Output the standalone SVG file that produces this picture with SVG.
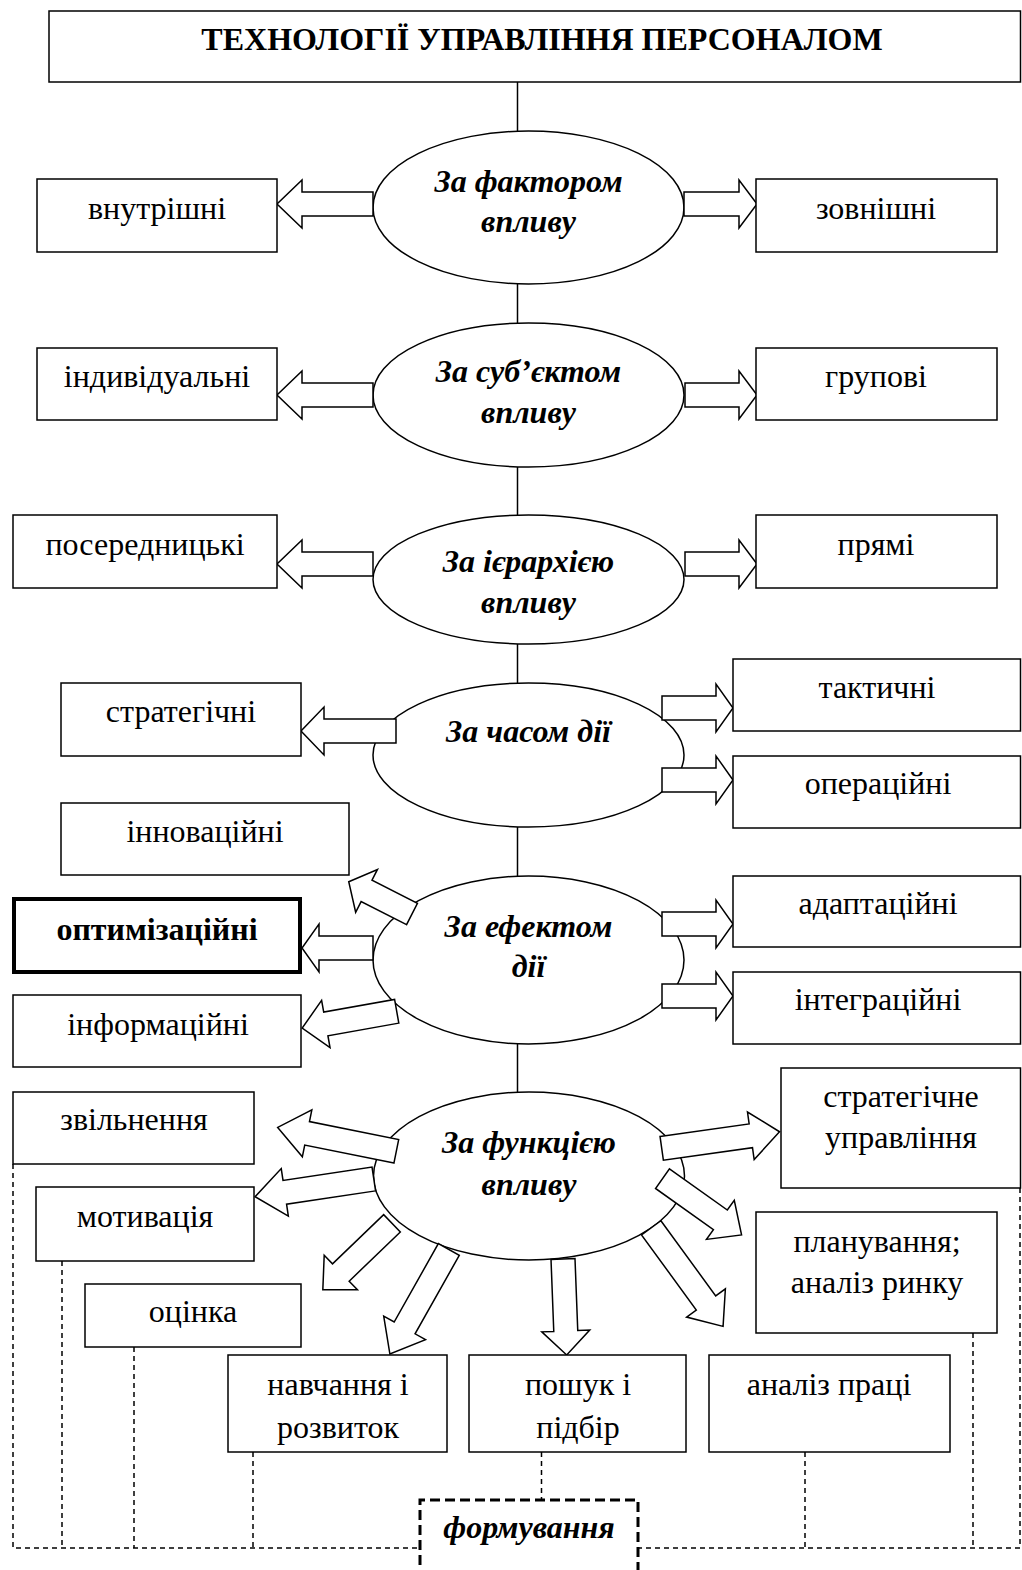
<svg xmlns="http://www.w3.org/2000/svg" width="1022" height="1570" viewBox="0 0 1022 1570">
  <style>
    .box { fill: #fff; stroke: #000; stroke-width: 1.5; }
    .thick { fill: #fff; stroke: #000; stroke-width: 4; }
    .ell { fill: #fff; stroke: #000; stroke-width: 1.5; }
    .ba { fill: #fff; stroke: #000; stroke-width: 1.5; stroke-linejoin: miter; }
    .spine { stroke: #000; stroke-width: 1.5; fill: none; }
    .dash { stroke: #000; stroke-width: 1.5; stroke-dasharray: 5 4; fill: none; }
    .fdash { fill: none; stroke: #000; stroke-width: 3; stroke-dasharray: 10 5; }
    text { font-family: "Liberation Serif", "Times New Roman", serif; font-size: 32px; text-anchor: middle; fill: #000; }
    .b { font-weight: bold; }
    .bi { font-weight: bold; font-style: italic; }
  </style>
  <rect width="1022" height="1570" fill="#fff"/>

  <!-- title -->
  <g id="title">
    <rect class="box" x="49" y="11" width="971.5" height="71"/>
    <text class="b" x="542" y="50">ТЕХНОЛОГІЇ УПРАВЛІННЯ ПЕРСОНАЛОМ</text>
  </g>

  <!-- classification ellipses -->
  <g id="e-factor">
    <ellipse class="ell" cx="528.5" cy="207.5" rx="155.5" ry="76.5"/>
    <text class="bi" x="528.5" y="192">За фактором</text>
    <text class="bi" x="528.5" y="232">впливу</text>
  </g>
  <g id="e-subject">
    <ellipse class="ell" cx="528.5" cy="395" rx="155.5" ry="72"/>
    <text class="bi" x="528.5" y="382">За суб’єктом</text>
    <text class="bi" x="528.5" y="423">впливу</text>
  </g>
  <g id="e-hierarchy">
    <ellipse class="ell" cx="528.5" cy="579.5" rx="155.5" ry="64.5"/>
    <text class="bi" x="528.5" y="572">За ієрархією</text>
    <text class="bi" x="528.5" y="613">впливу</text>
  </g>
  <g id="e-time">
    <ellipse class="ell" cx="528.5" cy="755" rx="155.5" ry="72"/>
    <text class="bi" x="528.5" y="742">За часом дії</text>
  </g>
  <g id="e-effect">
    <ellipse class="ell" cx="528.5" cy="960" rx="155.5" ry="84"/>
    <text class="bi" x="528.5" y="937">За ефектом</text>
    <text class="bi" x="528.5" y="977">дії</text>
  </g>
  <g id="e-function">
    <ellipse class="ell" cx="529" cy="1176" rx="155.5" ry="84"/>
    <text class="bi" x="529" y="1153">За функцією</text>
    <text class="bi" x="529" y="1195">впливу</text>
  </g>

  <!-- connectors: spine, block arrows, dashed links -->
  <g id="connectors">
    <line class="spine" x1="517.5" y1="82" x2="517.5" y2="131"/>
    <line class="spine" x1="517.5" y1="284" x2="517.5" y2="323"/>
    <line class="spine" x1="517.5" y1="467" x2="517.5" y2="515"/>
    <line class="spine" x1="517.5" y1="644" x2="517.5" y2="683"/>
    <line class="spine" x1="517.5" y1="827" x2="517.5" y2="876"/>
    <line class="spine" x1="517.5" y1="1044" x2="517.5" y2="1092"/>

    <polygon class="ba" points="373,192 302,192 302,180 277,204 302,228 302,216 373,216"/>
    <polygon class="ba" points="684,192 739,192 739,180 757,204 739,228 739,216 684,216"/>
    <polygon class="ba" points="373,383 302,383 302,371 277,395 302,419 302,407 373,407"/>
    <polygon class="ba" points="685,383 739,383 739,371 757,395 739,419 739,407 685,407"/>
    <polygon class="ba" points="373,552 302,552 302,540 277,564 302,588 302,576 373,576"/>
    <polygon class="ba" points="685,552 739,552 739,540 757,564 739,588 739,576 685,576"/>
    <polygon class="ba" points="396,719 324,719 324,707 301,731 324,755 324,743 396,743"/>
    <polygon class="ba" points="662,696 716,696 716,684 733,708 716,732 716,720 662,720"/>
    <polygon class="ba" points="662,768 716,768 716,756 733,780 716,804 716,792 662,792"/>
    <polygon class="ba" points="373,936 319,936 319,924 302,948 319,972 319,960 373,960"/>
    <polygon class="ba" points="662,912 716,912 716,900 733,924 716,948 716,936 662,936"/>
    <polygon class="ba" points="662,984 716,984 716,972 733,996 716,1020 716,1008 662,1008"/>
    <polygon class="ba" transform="translate(412,914) rotate(207)" points="0,-12 51,-12 51,-24 71,0 51,24 51,12 0,12"/>
    <polygon class="ba" transform="translate(396.7,1011.3) rotate(169.9)" points="0,-12 72,-12 72,-24 96,0 72,24 72,12 0,12"/>

    <polygon class="ba" transform="translate(396.3,1151.3) rotate(191.4)" points="0,-12 91,-12 91,-24 121,0 91,24 91,12 0,12"/>
    <polygon class="ba" transform="translate(373.8,1179) rotate(171.5)" points="0,-12 90,-12 90,-24 120,0 90,24 90,12 0,12"/>
    <polygon class="ba" transform="translate(392,1223.3) rotate(136.1)" points="0,-12 71,-12 71,-24 96,0 71,24 71,12 0,12"/>
    <polygon class="ba" transform="translate(448.8,1249.5) rotate(119.4)" points="0,-12 90,-12 90,-24 120,0 90,24 90,12 0,12"/>
    <polygon class="ba" transform="translate(563,1259) rotate(87.8)" points="0,-12 72,-12 72,-24 96,0 72,24 72,12 0,12"/>
    <polygon class="ba" transform="translate(651.2,1227.8) rotate(53.9)" points="0,-12 93,-12 93,-24 122,0 93,24 93,12 0,12"/>
    <polygon class="ba" transform="translate(662.5,1178.7) rotate(35.4)" points="0,-12 71,-12 71,-24 97,0 71,24 71,12 0,12"/>
    <polygon class="ba" transform="translate(661.7,1148.3) rotate(-8)" points="0,-12 90,-12 90,-24 119,0 90,24 90,12 0,12"/>

    <path class="dash" d="M13,1164 V1548 H420"/>
    <path class="dash" d="M1020,1188 V1548 H638"/>
    <line class="dash" x1="62" y1="1261" x2="62" y2="1548"/>
    <line class="dash" x1="134" y1="1347" x2="134" y2="1548"/>
    <line class="dash" x1="253" y1="1452" x2="253" y2="1548"/>
    <line class="dash" x1="541.5" y1="1452" x2="541.5" y2="1500"/>
    <line class="dash" x1="805" y1="1452" x2="805" y2="1548"/>
    <line class="dash" x1="973" y1="1333" x2="973" y2="1548"/>
  </g>

  <!-- category boxes -->
  <g id="n-internal"><rect class="box" x="37" y="179" width="240" height="73"/><text x="157" y="219">внутрішні</text></g>
  <g id="n-external"><rect class="box" x="756" y="179" width="241" height="73"/><text x="876" y="219">зовнішні</text></g>
  <g id="n-individual"><rect class="box" x="37" y="348" width="240" height="72"/><text x="157" y="387">індивідуальні</text></g>
  <g id="n-group"><rect class="box" x="756" y="348" width="241" height="72"/><text x="876" y="387">групові</text></g>
  <g id="n-mediated"><rect class="box" x="13" y="515" width="264" height="73"/><text x="145" y="555">посередницькі</text></g>
  <g id="n-direct"><rect class="box" x="756" y="515" width="241" height="73"/><text x="876" y="555">прямі</text></g>
  <g id="n-strategic"><rect class="box" x="61" y="683" width="240" height="73"/><text x="181" y="722">стратегічні</text></g>
  <g id="n-tactical"><rect class="box" x="733" y="659" width="287.5" height="72"/><text x="877" y="698">тактичні</text></g>
  <g id="n-operational"><rect class="box" x="733" y="756" width="287.5" height="72"/><text x="878" y="794">операційні</text></g>
  <g id="n-innovative"><rect class="box" x="61" y="803" width="288" height="72"/><text x="205" y="842">інноваційні</text></g>
  <g id="n-optimizing"><rect class="thick" x="14" y="899" width="286" height="73"/><text class="b" x="157" y="940">оптимізаційні</text></g>
  <g id="n-informational"><rect class="box" x="13" y="995" width="288" height="72"/><text x="158" y="1035">інформаційні</text></g>
  <g id="n-adaptive"><rect class="box" x="733" y="876" width="287.5" height="71"/><text x="878" y="914">адаптаційні</text></g>
  <g id="n-integrative"><rect class="box" x="733" y="972" width="287.5" height="72"/><text x="878" y="1010">інтеграційні</text></g>

  <!-- function boxes -->
  <g id="n-dismissal"><rect class="box" x="13" y="1092" width="241" height="72"/><text x="134" y="1130">звільнення</text></g>
  <g id="n-motivation"><rect class="box" x="36" y="1187" width="218" height="74"/><text x="145" y="1227">мотивація</text></g>
  <g id="n-appraisal"><rect class="box" x="85" y="1284" width="216" height="63"/><text x="193" y="1322">оцінка</text></g>
  <g id="n-strat-mgmt"><rect class="box" x="781" y="1068" width="239.5" height="120"/><text x="901" y="1107">стратегічне</text><text x="901" y="1148">управління</text></g>
  <g id="n-planning"><rect class="box" x="756" y="1212" width="241" height="121"/><text x="877" y="1252">планування;</text><text x="877" y="1293">аналіз ринку</text></g>
  <g id="n-training"><rect class="box" x="228" y="1355" width="219" height="97"/><text x="338" y="1395">навчання і</text><text x="338" y="1438">розвиток</text></g>
  <g id="n-recruiting"><rect class="box" x="469" y="1355" width="217" height="97"/><text x="578" y="1395">пошук і</text><text x="578" y="1438">підбір</text></g>
  <g id="n-job-analysis"><rect class="box" x="709" y="1355" width="241" height="97"/><text x="829" y="1395">аналіз праці</text></g>

  <g id="n-forming">
    <path class="fdash" d="M420,1580 V1500 H638 V1580"/>
    <text class="bi" x="529" y="1538">формування</text>
  </g>
</svg>
